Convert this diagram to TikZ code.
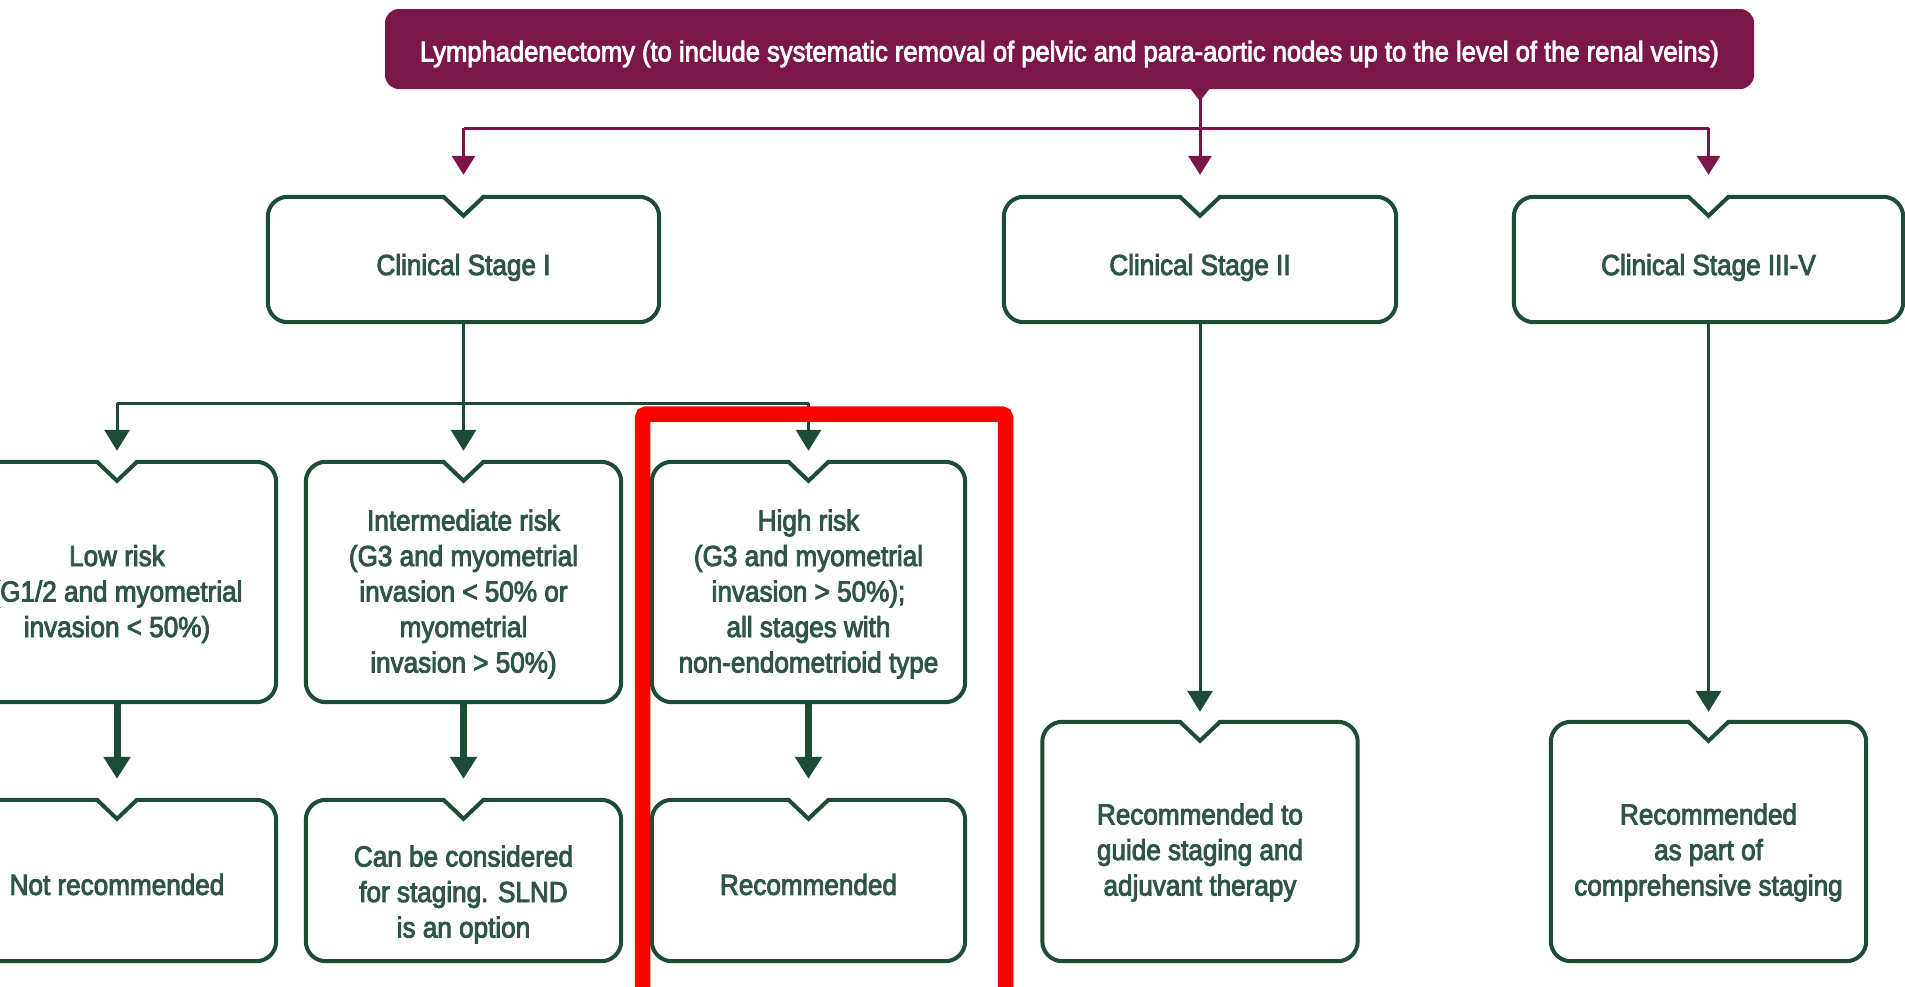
\documentclass[tikz,border=0pt]{standalone}
\usepackage{fontspec}
\setmainfont{Liberation Sans}[FakeStretch=0.9,FakeBold=3]
\usetikzlibrary{arrows.meta,calc}
\definecolor{plum}{HTML}{7B1648}
\definecolor{dkgreen}{HTML}{1D4C36}
\definecolor{txtgreen}{HTML}{2E5546}
\definecolor{hlred}{HTML}{FF0000}
\tikzset{
  boxshape/.style={rectangle, inner sep=0pt},
  boxtext/.style={rectangle, inner sep=0pt, align=center, text=txtgreen,
    font=\fontsize{29}{35.5}\selectfont},
  outline/.style={draw=dkgreen, line width=4pt, line cap=round},
  pline/.style={draw=plum, line width=3pt},
  parrow/.style={pline, -{Triangle[width=23pt,length=19pt]}},
  gline/.style={draw=dkgreen, line width=3pt},
  garrow/.style={gline, -{Triangle[width=25pt,length=21pt]}},
  tarrow/.style={draw=dkgreen, line width=7pt, -{Triangle[width=26pt,length=22pt]}},
}
\newcommand{\notchoutline}[1]{%
  \draw[outline, rounded corners=20pt] ($(#1.north)+(20,0)$) -- (#1.north east) -- (#1.south east)
    -- (#1.south west) -- (#1.north west) -- ($(#1.north)+(-20,0)$);
  \draw[outline, line join=miter] ($(#1.north)+(-20,0)$) -- ($(#1.north)+(0,19)$) -- ($(#1.north)+(20,0)$);
}
% name, cx, cy, width, height, text offset, text
\newcommand{\flowbox}[7]{%
  \node[boxshape, minimum width=#4, minimum height=#5] (#1) at (#2,#3) {};
  \node[boxtext] (#1-t) at ($(#1.center)+(0,#6)$) {#7};
  \notchoutline{#1}
}
\begin{document}
\begin{tikzpicture}[x=1pt,y=-1pt]
\clip (0,0) rectangle (1905,986);
\fill[white] (0,0) rectangle (1905,986);

% banner
\node[boxshape, minimum width=1369, minimum height=80, fill=plum, rounded corners=14pt] (top) at (1069.5,49) {};
\node[boxtext, text=white, font=\fontsize{28.4}{34}\selectfont] (top-t) at ($(top.center)+(0,5)$)
  {Lymphadenectomy (to include systematic removal of pelvic and para-aortic nodes up to the level of the renal veins)};

% stage boxes
\flowbox{s1}{463.5}{259.5}{391}{125}{8}{Clinical Stage I}
\flowbox{s2}{1200}{259.5}{392}{125}{8}{Clinical Stage II}
\flowbox{s3}{1708.5}{259.5}{389}{125}{8}{Clinical Stage III-V}

% risk boxes
\flowbox{low}{117}{582}{318}{240}{12}{Low risk\\(G1/2 and myometrial\\invasion < 50\%)}
\flowbox{mid}{463.5}{582}{315}{240}{12}{Intermediate risk\\(G3 and myometrial\\invasion < 50\% or\\myometrial\\invasion > 50\%)}
\flowbox{high}{808.5}{582}{313}{240}{12}{High risk\\(G3 and myometrial\\invasion > 50\%);\\all stages with\\non-endometrioid type}

% outcome boxes
\flowbox{notrec}{117}{880.5}{318}{161}{4}{Not recommended}
\flowbox{consider}{463.5}{880.5}{315}{161}{14}{Can be considered\\for staging. SLND\\is an option}
\flowbox{rec}{808.5}{880.5}{313}{161}{4}{Recommended}
\flowbox{rec2}{1200}{841.5}{315}{239}{11}{Recommended to\\guide staging and\\adjuvant therapy}
\flowbox{rec3}{1708.5}{841.5}{315}{239}{11}{Recommended\\as part of\\comprehensive staging}

% purple connectors
\fill[plum] ($(top.south -| s2.north)+(-10,-1)$) -- ($(top.south -| s2.north)+(10,-1)$)
  -- ($(top.south -| s2.north)+(0,12)$) -- cycle;
\coordinate (pj) at ($(top.south -| s2.north)+(0,39)$);
\draw[pline] (pj -| s1.north) -- (pj -| s3.north);
\draw[parrow, shorten >=22pt] (top.south -| s2.north) -- (s2.north);
\draw[parrow, shorten >=22pt] (pj -| s1.north) -- (s1.north);
\draw[parrow, shorten >=22pt] (pj -| s3.north) -- (s3.north);

% stage I fork
\coordinate (gj) at ($(s1.south)+(0,81)$);
\draw[gline] (gj -| low.north) -- (gj -| high.north);
\draw[garrow, shorten >=11pt] (s1.south) -- (mid.north);
\draw[garrow, shorten >=11pt] (gj -| low.north) -- (low.north);
\draw[garrow, shorten >=11pt] (gj -| high.north) -- (high.north);

% risk to outcome
\draw[tarrow, shorten >=21pt] (low.south) -- (notrec.north);
\draw[tarrow, shorten >=21pt] (mid.south) -- (consider.north);
\draw[tarrow, shorten >=21pt] (high.south) -- (rec.north);

% stage II / III-V
\draw[garrow, shorten >=10pt] (s2.south) -- (rec2.north);
\draw[garrow, line width=3.5pt, shorten >=10pt] (s3.south) -- (rec3.north);

% red highlight
\draw[hlred, line width=15.5pt, rounded corners=4pt] (642.5,1010) -- (642.5,414) -- (1005.5,414) -- (1005.5,1010);
\end{tikzpicture}
\end{document}
